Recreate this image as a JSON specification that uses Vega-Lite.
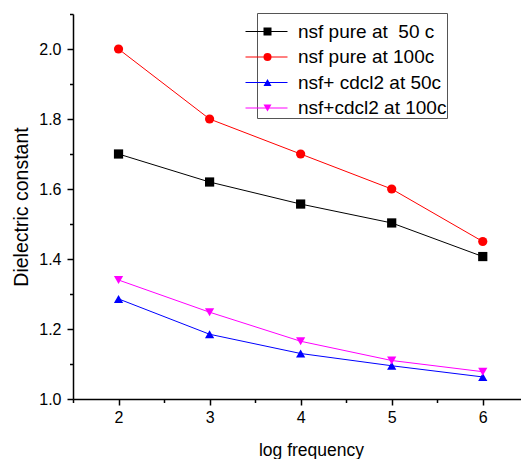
{
  "$schema": "https://vega.github.io/schema/vega-lite/v6.json",
  "width": 448,
  "height": 385,
  "autosize": "none",
  "padding": {"left": 73, "top": 14, "right": 0, "bottom": 60},
  "config": {"font": "Liberation Sans", "view": {"stroke": null}},
  "data": {"values": [
    {"series": "nsf pure at\u00a0 50 c", "logf": 2, "eps": 1.70},
    {"series": "nsf pure at\u00a0 50 c", "logf": 3, "eps": 1.62},
    {"series": "nsf pure at\u00a0 50 c", "logf": 4, "eps": 1.557},
    {"series": "nsf pure at\u00a0 50 c", "logf": 5, "eps": 1.503},
    {"series": "nsf pure at\u00a0 50 c", "logf": 6, "eps": 1.407},
    {"series": "nsf pure at 100c", "logf": 2, "eps": 2.00},
    {"series": "nsf pure at 100c", "logf": 3, "eps": 1.80},
    {"series": "nsf pure at 100c", "logf": 4, "eps": 1.70},
    {"series": "nsf pure at 100c", "logf": 5, "eps": 1.60},
    {"series": "nsf pure at 100c", "logf": 6, "eps": 1.45},
    {"series": "nsf+ cdcl2 at 50c", "logf": 2, "eps": 1.286},
    {"series": "nsf+ cdcl2 at 50c", "logf": 3, "eps": 1.185},
    {"series": "nsf+ cdcl2 at 50c", "logf": 4, "eps": 1.13},
    {"series": "nsf+ cdcl2 at 50c", "logf": 5, "eps": 1.095},
    {"series": "nsf+ cdcl2 at 50c", "logf": 6, "eps": 1.063},
    {"series": "nsf+cdcl2 at 100c", "logf": 2, "eps": 1.34},
    {"series": "nsf+cdcl2 at 100c", "logf": 3, "eps": 1.248},
    {"series": "nsf+cdcl2 at 100c", "logf": 4, "eps": 1.165},
    {"series": "nsf+cdcl2 at 100c", "logf": 5, "eps": 1.11},
    {"series": "nsf+cdcl2 at 100c", "logf": 6, "eps": 1.078}
  ]},
  "encoding": {
    "x": {
      "field": "logf", "type": "quantitative",
      "scale": {"domain": [1.5, 6.42], "nice": false, "zero": false},
      "axis": {
        "title": "log frequency",
        "values": [1.5, 2, 2.5, 3, 3.5, 4, 4.5, 5, 5.5, 6],
        "labelExpr": "datum.value % 1 == 0 ? format(datum.value, 'd') : ''",
        "tickSize": {"condition": {"test": "datum.value % 1 == 0", "value": 6}, "value": 3.5},
        "grid": false,
        "domainColor": "black", "domainWidth": 1.5,
        "tickColor": "black", "tickWidth": 1.5,
        "labelFontSize": 16, "labelColor": "black", "labelPadding": 4,
        "titleFontSize": 17.5, "titleFontWeight": "normal", "titleColor": "black", "titlePadding": 16,
        "titleX": 238
      }
    },
    "y": {
      "field": "eps", "type": "quantitative",
      "scale": {"domain": [1.0, 2.1], "nice": false, "zero": false},
      "axis": {
        "title": "Dielectric constant",
        "values": [1.0, 1.1, 1.2, 1.3, 1.4, 1.5, 1.6, 1.7, 1.8, 1.9, 2.0, 2.1],
        "labelExpr": "round(datum.value * 10) % 2 == 0 ? format(datum.value, '.1f') : ''",
        "tickSize": {"condition": {"test": "round(datum.value * 10) % 2 == 0", "value": 6}, "value": 3.5},
        "grid": false,
        "domainColor": "black", "domainWidth": 1.5,
        "tickColor": "black", "tickWidth": 1.5,
        "labelFontSize": 16, "labelColor": "black", "labelPadding": 6,
        "titleFontSize": 19.5, "titleFontWeight": "normal", "titleColor": "black", "titlePadding": 7
      }
    }
  },
  "layer": [
    {
      "mark": {"type": "line", "strokeWidth": 1},
      "encoding": {
        "stroke": {
          "field": "series", "type": "nominal", "sort": null,
          "scale": {
            "range": ["#000000", "#FF0000", "#0000FF", "#FF00FF"]
          },
          "legend": {
            "title": " ", "titleFontSize": 9, "titlePadding": 0,
            "orient": "none", "legendX": 184, "legendY": -1,
            "symbolType": "M-7.4,0h0.001M-4.2,0H4.2", "symbolSize": 100, "symbolStrokeWidth": 1,
            "labelFontSize": 19, "labelColor": "black", "labelOffset": 22, "labelLimit": 300,
            "padding": 0, "rowPadding": 5.5, "strokeColor": "#555555"
          }
        }
      }
    },
    {
      "mark": {"type": "point", "filled": true, "size": 85, "opacity": 1, "strokeWidth": 0},
      "encoding": {
        "fill": {
          "field": "series", "type": "nominal",
          "scale": {
            "domain": ["nsf pure at\u00a0 50 c", "nsf pure at 100c", "nsf+ cdcl2 at 50c", "nsf+cdcl2 at 100c"],
            "range": ["#000000", "#FF0000", "#0000FF", "#FF00FF"]
          },
          "legend": {
            "title": " ", "titleFontSize": 9, "titlePadding": 0,
            "orient": "none", "legendX": 185, "legendY": -1,
            "symbolSize": 64, "symbolStrokeWidth": 0, "symbolOpacity": 1,
            "labelFontSize": 19, "labelOpacity": 0, "labelOffset": 22, "labelLimit": 300,
            "padding": 0, "rowPadding": 5.5
          }
        },
        "shape": {
          "field": "series", "type": "nominal",
          "scale": {
            "domain": ["nsf pure at\u00a0 50 c", "nsf pure at 100c", "nsf+ cdcl2 at 50c", "nsf+cdcl2 at 100c"],
            "range": ["square", "circle", "triangle-up", "triangle-down"]
          },
          "legend": {
            "title": " ", "titleFontSize": 9, "titlePadding": 0,
            "orient": "none", "legendX": 185, "legendY": -1,
            "symbolSize": 64, "symbolStrokeWidth": 0, "symbolOpacity": 1,
            "labelFontSize": 19, "labelOpacity": 0, "labelOffset": 22, "labelLimit": 300,
            "padding": 0, "rowPadding": 5.5
          }
        }
      }
    }
  ]
}
